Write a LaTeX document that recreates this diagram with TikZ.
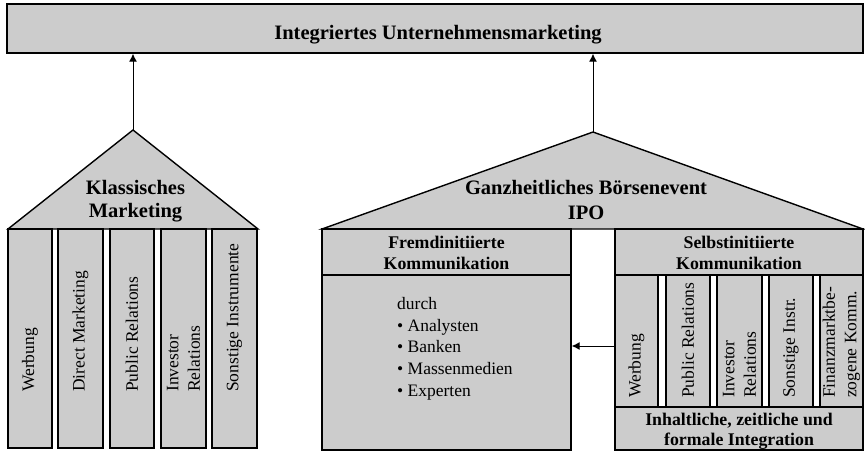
\documentclass[tikz,border=0pt]{standalone}
\usepackage{fontspec}
\setmainfont{Liberation Serif}
\usetikzlibrary{arrows.meta}
\tikzset{
  box/.style={draw, line width=1.4pt, fill=black!20},
  gap/.style={draw, line width=1.1pt, fill=white},
  title/.style={align=center, inner sep=0pt, font=\bfseries\fontsize{20.5}{23}\selectfont},
  head/.style={align=center, inner sep=0pt, font=\bfseries\fontsize{17.8}{21}\selectfont},
  body/.style={align=left, inner sep=0pt, font=\fontsize{17.5}{21.7}\selectfont},
  coltext/.style={rotate=90, anchor=west, align=left, inner sep=0pt, font=\fontsize{17.5}{21.5}\selectfont},
  arrow/.style={-{Latex[length=8pt,width=8pt]}, line width=1pt},
}
\begin{document}
\begin{tikzpicture}[x=1pt,y=-1pt]
  \useasboundingbox (0,0) rectangle (865,453);
  % top bar
  \node[box, minimum width=856pt, minimum height=49pt] (top) at (435,28.5) {};
  \node[title, anchor=base] (topText) at (438,39) {Integriertes Unternehmensmarketing};

  % classic house
  \draw[box] (8,229) -- (133,130) -- (258,229) -- cycle;
  \coordinate (apexK) at (133,130);
  \node[title] (klass) at (135.5,201) {Klassisches\\Marketing};
  \draw[box] (8,229) rectangle (52,448);
  \draw[box] (58,229) rectangle (103,448);
  \draw[box] (110,229) rectangle (154,448);
  \draw[box] (161,229) rectangle (206,448);
  \draw[box] (212,229) rectangle (257,448);
  \node[coltext] (kWerb) at (30,392) {Werbung};
  \node[coltext] (kDirect) at (80.5,392) {Direct Marketing};
  \node[coltext] (kPR) at (132,392) {Public Relations};
  \node[coltext] (kIR) at (183.5,392) {Investor\\Relations};
  \node[coltext] (kSonst) at (234.5,392) {Sonstige Instrumente};

  % IPO house
  \draw[box] (322,229) -- (593,132) -- (863,229) -- cycle;
  \coordinate (apexB) at (593,132);
  \node[title] (ipo) at (586,200) {Ganzheitliches Börsenevent\\[2pt]IPO};

  \node[box, minimum width=249pt, minimum height=221pt, inner sep=0pt] (fremd) at (446.5,339.5) {};
  \draw[line width=1.4pt] (322,275) -- (571,275);
  \node[head] (fremdHead) at (446.5,253) {Fremdinitiierte\\Kommunikation};
  \node[body, anchor=north west] (fremdList) at (397,297)
    {durch\\\textbullet\ Analysten\\\textbullet\ Banken\\\textbullet\ Massenmedien\\\textbullet\ Experten};

  \node[box, minimum width=248pt, minimum height=221pt, inner sep=0pt] (selbst) at (739,339.5) {};
  \draw[line width=1.4pt] (615,275) -- (863,275);
  \draw[line width=1.4pt] (615,407) -- (863,407);
  \draw[gap] (658,275) rectangle (666,407);
  \draw[gap] (710,275) rectangle (717,407);
  \draw[gap] (762,275) rectangle (769,407);
  \draw[gap] (813,275) rectangle (820,407);
  \node[head] (selbstHead) at (739,253) {Selbstinitiierte\\Kommunikation};
  \node[coltext] (sWerb) at (636.5,398) {Werbung};
  \node[coltext] (sPR) at (688,398) {Public Relations};
  \node[coltext] (sIR) at (739.5,398) {Investor\\Relations};
  \node[coltext] (sSonst) at (791,398) {Sonstige Instr.};
  \node[coltext] (sFin) at (841.5,398) {Finanzmarktbe-\\zogene Komm.};
  \node[head] (integr) at (739,431) {Inhaltliche, zeitliche und\\[-1pt]formale Integration};

  % arrows
  \draw[arrow] (apexK) -- (apexK |- top.south);
  \draw[arrow] (apexB) -- (apexB |- top.south);
  \draw[arrow] (selbst.west |- 0,346) -- (fremd.east |- 0,346);
\end{tikzpicture}
\end{document}
